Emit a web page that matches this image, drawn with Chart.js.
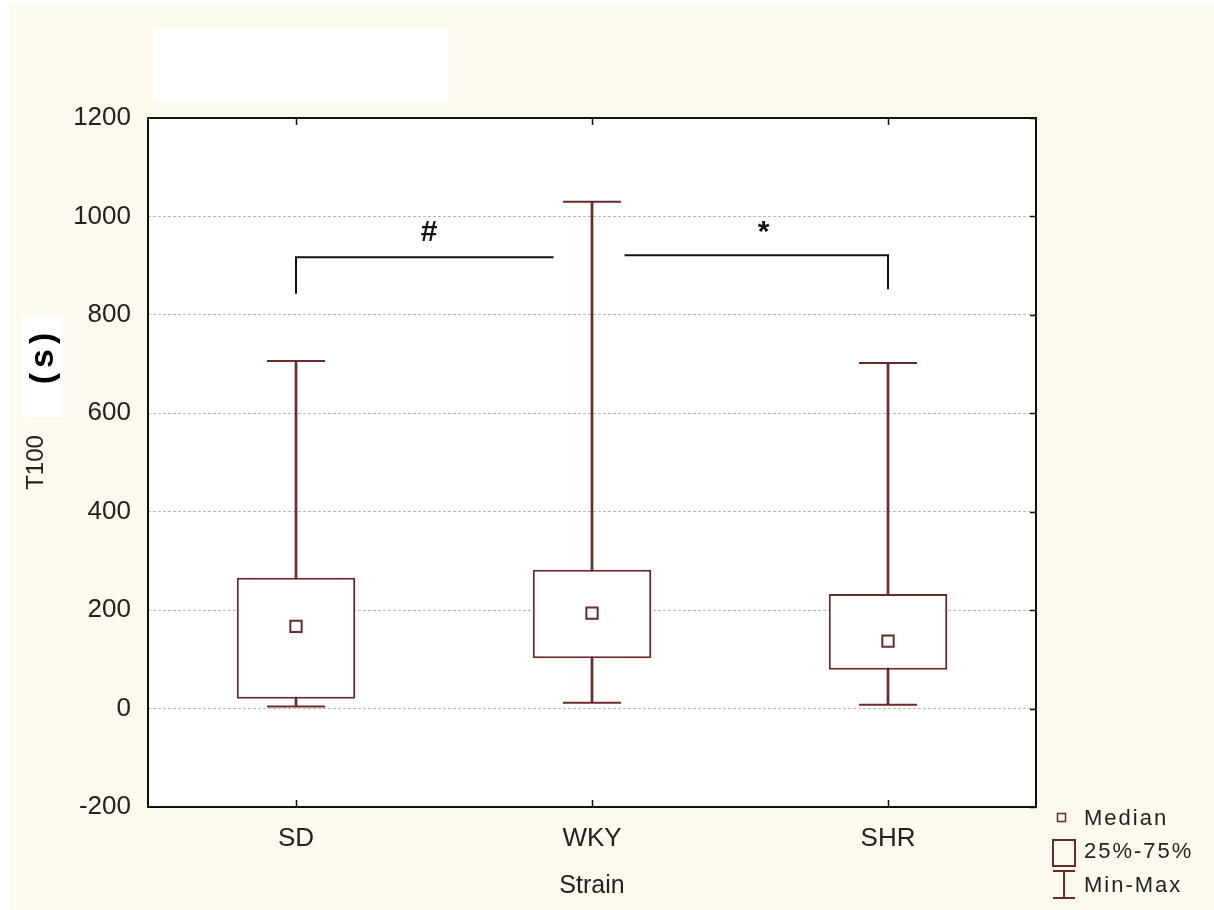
<!DOCTYPE html>
<html lang="en">

<head>
    <meta charset="UTF-8" />
    <title>T100 by Strain</title>
    <style>
        * {
            margin: 0;
            padding: 0;
            box-sizing: border-box;
        }

        body {
            width: 1214px;
            height: 910px;
            background: #ffffff;
            overflow: hidden;
        }

        #chart {
            display: block;
        }
    </style>
</head>

<body>
    <canvas id="chart" width="1214" height="910"></canvas>

    <script src="https://cdn.jsdelivr.net/npm/chart.js@4.4.1/dist/chart.umd.min.js"></script>
    <script>
        // data
        const strains = ["SD", "WKY", "SHR"];
        const minVals = [4, 12, 8];
        const q1Vals = [20, 102, 79];
        const medianVals = [167, 194, 137];
        const q3Vals = [266, 282, 233];
        const maxVals = [706, 1030, 702];

        // significance brackets (x in category units, y in seconds)
        const bracketLeft = [{ x: 0, y: 843 }, { x: 0, y: 917 }, { x: 0.87, y: 917 }];
        const bracketRight = [{ x: 1.11, y: 921 }, { x: 2, y: 921 }, { x: 2, y: 852 }];
        const sigMarks = ["#", "*"];
        const sigX = [0.45, 1.58];
        const sigY = [951, 951];

        const boxColor = "#6a2a2a";
        const cream = "#fef9ef";
        const fontFamily = "'Liberation Sans', Arial, sans-serif";

        const decorations = {
            id: "decorations",
            beforeDraw(chart) {
                const { ctx, chartArea: a } = chart;
                ctx.save();
                ctx.fillStyle = cream;
                ctx.fillRect(9, 5, 1214 - 9, 910 - 5);
                ctx.fillStyle = "#ffffff";
                ctx.fillRect(a.left, a.top, a.right - a.left, a.bottom - a.top);
                // blank label box top left
                ctx.fillRect(153, 28, 295, 74);
                ctx.restore();
            },
            afterDraw(chart) {
                const { ctx, chartArea: a, scales } = chart;
                ctx.save();
                // frame
                ctx.strokeStyle = "#111111";
                ctx.lineWidth = 2;
                ctx.strokeRect(a.left, a.top, a.right - a.left, a.bottom - a.top);
                // inner tick marks
                ctx.lineWidth = 1.5;
                ctx.beginPath();
                scales.y.ticks.forEach(t => {
                    const y = Math.round(scales.y.getPixelForValue(t.value)) + 0.5;
                    ctx.moveTo(a.right - 6, y);
                    ctx.lineTo(a.right, y);
                });
                strains.forEach((s, i) => {
                    const x = Math.round(scales.x.getPixelForValue(i)) + 0.5;
                    ctx.moveTo(x, a.top);
                    ctx.lineTo(x, a.top + 7);
                    ctx.moveTo(x, a.bottom);
                    ctx.lineTo(x, a.bottom - 7);
                });
                ctx.stroke();

                // significance marks
                ctx.fillStyle = "#111111";
                ctx.font = "bold 30px " + fontFamily;
                ctx.textAlign = "center";
                ctx.textBaseline = "alphabetic";
                sigMarks.forEach((m, i) => {
                    ctx.fillText(m, scales.xa.getPixelForValue(sigX[i]), scales.y.getPixelForValue(sigY[i]));
                });

                // "(s)" unit overlay on the y title
                ctx.fillStyle = "#ffffff";
                ctx.fillRect(22, 315, 41, 102);
                ctx.translate(44, 358);
                ctx.rotate(-Math.PI / 2);
                ctx.fillStyle = "#000000";
                ctx.font = "bold 34px " + fontFamily;
                ctx.textBaseline = "middle";
                ctx.letterSpacing = "5px";
                ctx.fillText("(s)", 2, 0);
                ctx.restore();

                // legend
                ctx.save();
                ctx.strokeStyle = boxColor;
                ctx.lineWidth = 1.5;
                ctx.strokeRect(1057.5, 813.5, 8, 8);
                ctx.lineWidth = 2;
                ctx.strokeRect(1053, 840, 22, 26);
                ctx.beginPath();
                ctx.moveTo(1053, 871); ctx.lineTo(1075, 871);
                ctx.moveTo(1064, 871); ctx.lineTo(1064, 898);
                ctx.moveTo(1053, 898); ctx.lineTo(1075, 898);
                ctx.stroke();
                ctx.fillStyle = "#222222";
                ctx.font = "22px " + fontFamily;
                ctx.letterSpacing = "2px";
                ctx.textAlign = "left";
                ctx.textBaseline = "middle";
                ctx.fillText("Median", 1084, 819);
                ctx.fillText("25%-75%", 1084, 852);
                ctx.fillText("Min-Max", 1084, 886);
                ctx.restore();
            }
        };

        const capDataset = (vals) => ({
            type: "line",
            data: vals,
            showLine: false,
            pointStyle: "line",
            pointRadius: 29,
            pointHoverRadius: 29,
            pointBorderColor: boxColor,
            pointBorderWidth: 2,
            order: 2,
        });

        const bracketDataset = (pts) => ({
            type: "line",
            data: pts,
            xAxisID: "xa",
            borderColor: "#111111",
            borderWidth: 2,
            pointRadius: 0,
            fill: false,
            order: 0,
        });

        new Chart(document.getElementById("chart"), {
            type: "bar",
            data: {
                labels: strains,
                datasets: [
                    {
                        // 25%-75% boxes
                        data: strains.map((s, i) => [q1Vals[i], q3Vals[i]]),
                        backgroundColor: "#ffffff",
                        borderColor: boxColor,
                        borderWidth: 2,
                        borderSkipped: false,
                        barPercentage: 0.4,
                        categoryPercentage: 1,
                        grouped: false,
                        order: 1,
                    },
                    {
                        // min-max whiskers
                        data: strains.map((s, i) => [minVals[i], maxVals[i]]),
                        backgroundColor: boxColor,
                        borderWidth: 0,
                        barThickness: 2,
                        grouped: false,
                        order: 3,
                    },
                    capDataset(maxVals),
                    capDataset(minVals),
                    {
                        // medians
                        type: "line",
                        data: medianVals,
                        showLine: false,
                        pointStyle: "rect",
                        pointRadius: 8,
                        pointHoverRadius: 8,
                        pointBackgroundColor: "#ffffff",
                        pointBorderColor: boxColor,
                        pointBorderWidth: 2,
                        order: 0,
                    },
                    bracketDataset(bracketLeft),
                    bracketDataset(bracketRight),
                ],
            },
            options: {
                responsive: false,
                animation: false,
                events: [],
                layout: { padding: { top: 118, right: 178, bottom: 0, left: 0 } },
                plugins: {
                    legend: { display: false },
                    tooltip: { enabled: false },
                },
                scales: {
                    x: {
                        type: "category",
                        offset: true,
                        grid: { display: false, drawTicks: false },
                        border: { display: false },
                        ticks: { color: "#222222", padding: 16, font: { size: 26, family: fontFamily } },
                        title: {
                            display: true,
                            text: "Strain",
                            color: "#222222",
                            font: { size: 25, family: fontFamily },
                            padding: { top: 0, bottom: 9 },
                        },
                        afterFit: (s) => { s.height = 103; },
                    },
                    xa: {
                        type: "linear",
                        display: false,
                        offset: false,
                        min: -0.5,
                        max: 2.5,
                    },
                    y: {
                        min: -200,
                        max: 1200,
                        ticks: {
                            stepSize: 200,
                            color: "#222222",
                            padding: 17,
                            font: { size: 26, family: fontFamily },
                            callback: (v) => String(v),
                        },
                        grid: { color: "#b8b8b8", lineWidth: 1, drawTicks: false },
                        border: { display: false, dash: [3, 2] },
                        title: {
                            display: true,
                            text: "T100",
                            color: "#222222",
                            font: { size: 24, family: fontFamily },
                            padding: { top: 22, bottom: 0 },
                        },
                        afterFit: (s) => { s.width = 148; },
                    },
                },
            },
            plugins: [decorations],
        });
    </script>
</body>

</html>
